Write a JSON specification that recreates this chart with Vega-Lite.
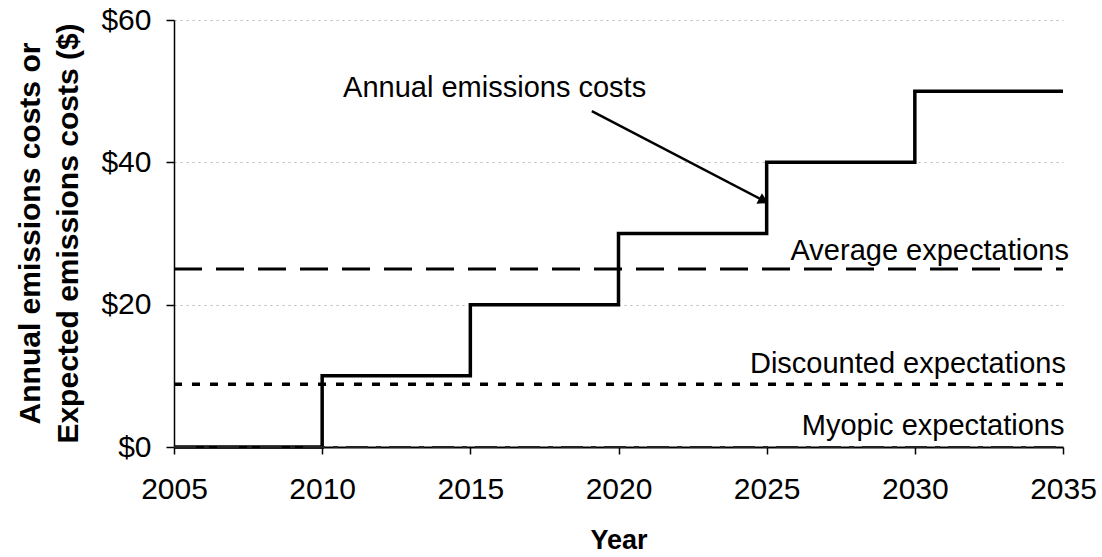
{
  "$schema": "https://vega.github.io/schema/vega-lite/v6.json",
  "width": 889,
  "height": 427,
  "autosize": {"type": "none"},
  "padding": {"left": 174, "top": 20, "right": 39, "bottom": 110},
  "background": "white",
  "config": {
    "view": {"stroke": null},
    "font": "Liberation Sans",
    "axis": {"labelFont": "Liberation Sans", "titleFont": "Liberation Sans", "labelColor": "black", "titleColor": "black", "labelFlush": false, "labelOverlap": false}
  },
  "datasets": {
    "annual": [
      {"year": 2005, "value": 0},
      {"year": 2010, "value": 10},
      {"year": 2015, "value": 20},
      {"year": 2020, "value": 30},
      {"year": 2025, "value": 40},
      {"year": 2030, "value": 50},
      {"year": 2035, "value": 50}
    ],
    "average": [{"year": 2005, "value": 25}, {"year": 2035, "value": 25}],
    "discounted": [{"year": 2005, "value": 8.8}, {"year": 2035, "value": 8.8}],
    "myopic": [{"year": 2005, "value": 0}, {"year": 2035, "value": 0}],
    "centerLabels": [
      {"year": 2015.82, "value": 49.2, "text": "Annual emissions costs"}
    ],
    "rightLabels": [
      {"year": 2035.2, "value": 26.3, "text": "Average expectations"},
      {"year": 2035.1, "value": 10.4, "text": "Discounted expectations"},
      {"year": 2035.05, "value": 1.7, "text": "Myopic expectations"}
    ],
    "arrow": [{"year": 2019.1, "value": 47.2, "year2": 2024.9, "value2": 34.6}],
    "arrowhead": [{"year": 2024.9, "value": 34.6}]
  },
  "layer": [
    {
      "data": {"name": "annual"},
      "mark": {"type": "line", "interpolate": "step-after", "color": "black", "strokeWidth": 3.5, "clip": false},
      "encoding": {
        "x": {
          "field": "year", "type": "quantitative",
          "scale": {"domain": [2005, 2035], "nice": false, "zero": false},
          "axis": {
            "values": [2005, 2010, 2015, 2020, 2025, 2030, 2035],
            "format": "d", "title": "Year", "grid": false, "labelFlush": false,
            "domainColor": "black", "domainWidth": 2, "tickColor": "black", "tickSize": 7, "tickWidth": 1.5,
            "labelFontSize": 30, "labelPadding": 20,
            "titleFontSize": 27, "titleFontWeight": "bold", "titleY": 101, "titleBaseline": "alphabetic"
          }
        },
        "y": {
          "field": "value", "type": "quantitative",
          "scale": {"domain": [0, 60], "nice": false},
          "axis": {
            "values": [0, 20, 40, 60],
            "labelExpr": "'$' + datum.value", "labelFlush": false,
            "title": ["Annual emissions costs or", "Expected emissions costs ($)"],
            "titleFontSize": 30, "titleFontWeight": "bold", "titleAngle": -90,
            "titleX": -144, "titleY": 213, "titleAlign": "center", "titleBaseline": "middle", "titleLineHeight": 38,
            "grid": true, "gridColor": "#b5b5b5", "gridDash": [2, 4], "gridWidth": 1,
            "domainColor": "black", "domainWidth": 1.5, "tickColor": "black", "tickSize": 8, "tickWidth": 1.5,
            "labelFontSize": 30, "labelPadding": 15
          }
        }
      }
    },
    {
      "data": {"name": "average"},
      "mark": {"type": "line", "color": "black", "strokeWidth": 3, "strokeDash": [28, 14]},
      "encoding": {"x": {"field": "year", "type": "quantitative"}, "y": {"field": "value", "type": "quantitative"}}
    },
    {
      "data": {"name": "discounted"},
      "mark": {"type": "line", "color": "black", "strokeWidth": 3.5, "strokeDash": [8, 10]},
      "encoding": {"x": {"field": "year", "type": "quantitative"}, "y": {"field": "value", "type": "quantitative"}}
    },
    {
      "data": {"name": "myopic"},
      "mark": {"type": "line", "color": "#222222", "strokeWidth": 2, "strokeDash": [22, 8, 5, 8]},
      "encoding": {"x": {"field": "year", "type": "quantitative"}, "y": {"field": "value", "type": "quantitative"}}
    },
    {
      "data": {"name": "arrow"},
      "mark": {"type": "rule", "color": "black", "strokeWidth": 2.5},
      "encoding": {
        "x": {"field": "year", "type": "quantitative"},
        "y": {"field": "value", "type": "quantitative"},
        "x2": {"field": "year2"},
        "y2": {"field": "value2"}
      }
    },
    {
      "data": {"name": "arrowhead"},
      "mark": {"type": "point", "shape": "triangle-up", "filled": true, "color": "black", "size": 140, "angle": 117.6, "opacity": 1},
      "encoding": {"x": {"field": "year", "type": "quantitative"}, "y": {"field": "value", "type": "quantitative"}}
    },
    {
      "data": {"name": "centerLabels"},
      "mark": {"type": "text", "fontSize": 29, "color": "black", "baseline": "alphabetic", "align": "center"},
      "encoding": {
        "x": {"field": "year", "type": "quantitative"},
        "y": {"field": "value", "type": "quantitative"},
        "text": {"field": "text"}
      }
    },
    {
      "data": {"name": "rightLabels"},
      "mark": {"type": "text", "fontSize": 29, "color": "black", "baseline": "alphabetic", "align": "right"},
      "encoding": {
        "x": {"field": "year", "type": "quantitative"},
        "y": {"field": "value", "type": "quantitative"},
        "text": {"field": "text"}
      }
    }
  ]
}
